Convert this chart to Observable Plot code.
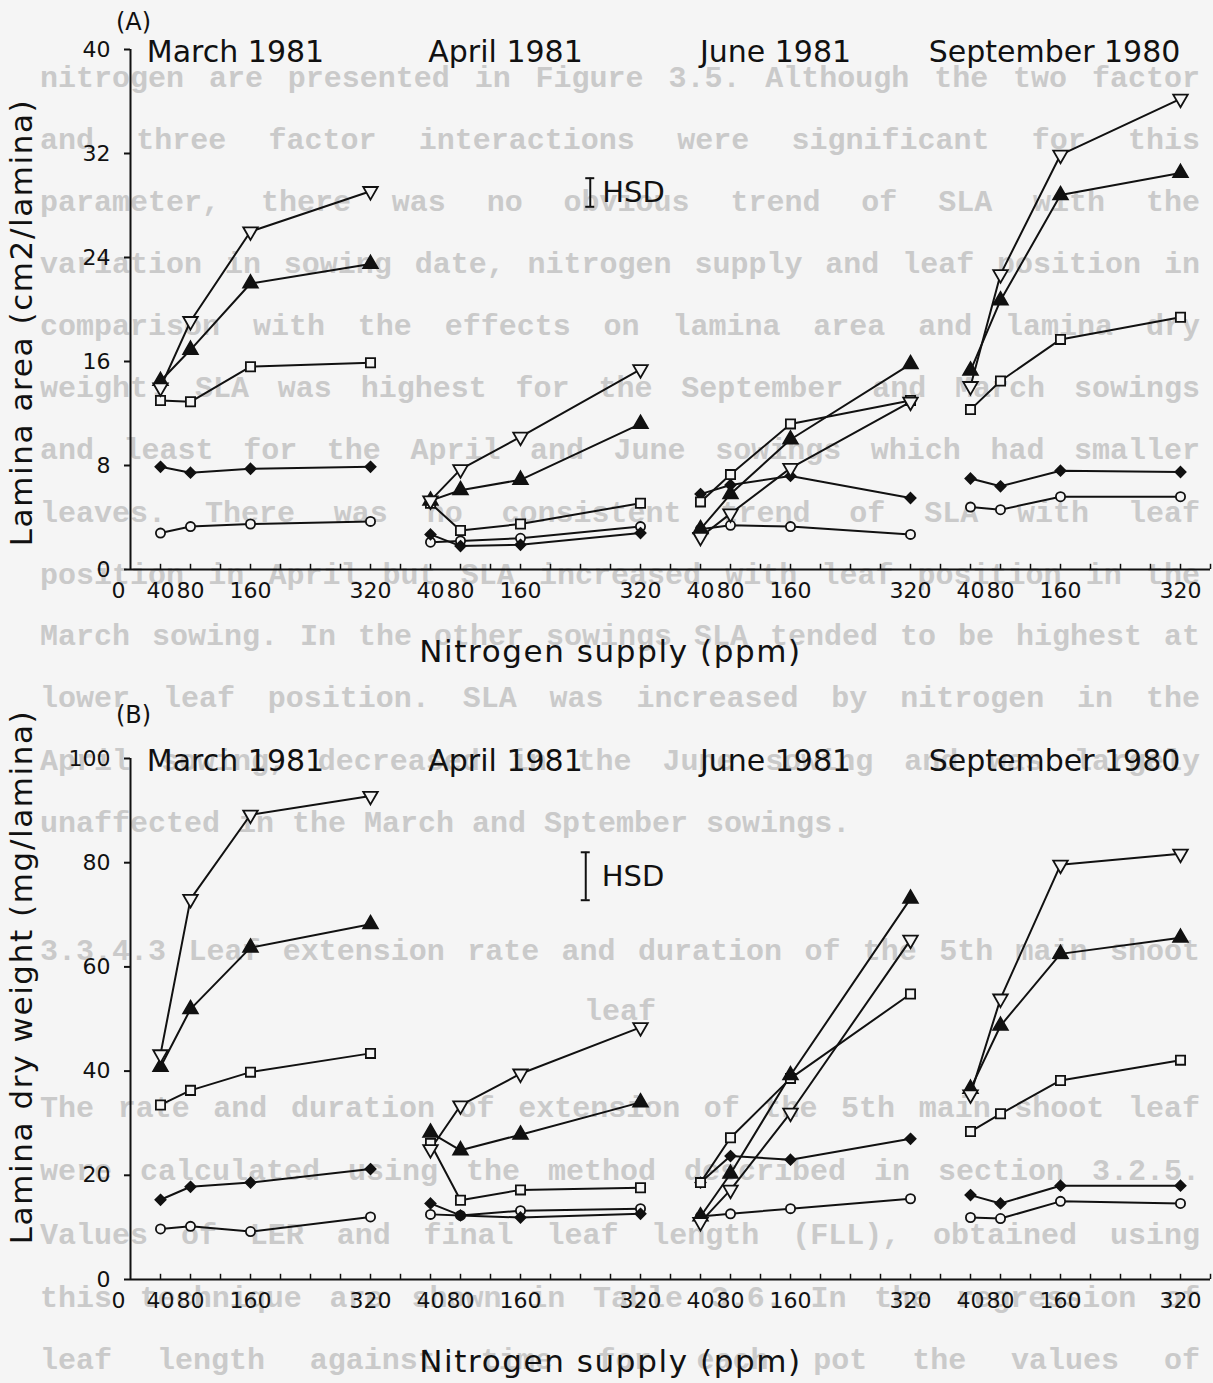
<!DOCTYPE html>
<html>
<head>
<meta charset="utf-8">
<script src="https://cdn.jsdelivr.net/npm/d3@7"></script>
<script src="https://cdn.jsdelivr.net/npm/@observablehq/plot@0.6"></script>
<style>
  html, body { margin: 0; padding: 0; background: #f5f5f5; }
  #page { position: relative; width: 1213px; height: 1383px; overflow: hidden; background: #f5f5f5; }
  #prose { position: absolute; left: 0; top: 0; width: 1213px; height: 1383px;
           font-family: "Liberation Mono", "DejaVu Sans Mono", monospace; font-weight: bold;
           font-size: 30px; color: #cacaca; }
  #prose div { position: absolute; left: 40px; width: 1160px; line-height: 30px;
               text-align: justify; text-align-last: justify; }
  #prose div.plain { text-align: left; text-align-last: left; }
  #prose div.center { text-align: center; text-align-last: center; }
  .chart { position: absolute; left: 0; }
</style>
</head>
<body>
<div id="page">
  <div id="prose"></div>
  <div id="chartA" class="chart" style="top:0px"></div>
  <div id="chartB" class="chart" style="top:690px"></div>
</div>
<script>
// ---------------------------------------------------------------------------
// Categories
const sowings = ["March 1981", "April 1981", "June 1981", "September 1980"];
const nitrogenLevels = [40, 80, 160, 320];          // ppm
const xTickLabels = ["40", "80", "160", "320"];
const seriesNames = ["downTriangle", "upTriangle", "square", "diamond", "circle"];

// (A) Lamina area (cm2/lamina); rows follow seriesNames, columns follow nitrogenLevels
const areaMarch1981 = [
  [14.0, 19.1, 26.0, 29.1],
  [14.5, 16.9, 22.0, 23.5],
  [13.0, 12.9, 15.6, 15.9],
  [7.9, 7.45, 7.75, 7.9],
  [2.8, 3.3, 3.5, 3.7]
];
const areaApril1981 = [
  [5.3, 7.7, 10.2, 15.4],
  [5.3, 6.1, 6.9, 11.2],
  [5.1, 3.0, 3.5, 5.1],
  [2.7, 1.8, 1.9, 2.8],
  [2.1, 2.2, 2.4, 3.3]
];
const areaJune1981 = [
  [2.5, 4.3, 7.8, 12.9],
  [3.1, 5.8, 10.0, 15.8],
  [5.2, 7.3, 11.2, 13.0],
  [5.8, 6.5, 7.2, 5.5],
  [3.1, 3.4, 3.3, 2.7]
];
const areaSeptember1980 = [
  [14.1, 22.7, 31.9, 36.2],
  [15.3, 20.7, 28.8, 30.5],
  [12.3, 14.5, 17.7, 19.4],
  [7.0, 6.4, 7.6, 7.5],
  [4.8, 4.6, 5.6, 5.6]
];

// (B) Lamina dry weight (mg/lamina)
const weightMarch1981 = [
  [43.2, 73.0, 89.2, 92.8],
  [40.8, 51.9, 63.7, 68.2],
  [33.5, 36.3, 39.8, 43.4],
  [15.3, 17.8, 18.6, 21.2],
  [9.7, 10.2, 9.2, 12.0]
];
const weightApril1981 = [
  [25.0, 33.4, 39.5, 48.4],
  [28.2, 24.8, 27.8, 34.0],
  [26.1, 15.2, 17.2, 17.6],
  [14.6, 12.3, 11.9, 12.6],
  [12.5, 12.3, 13.2, 13.6]
];
const weightJune1981 = [
  [11.0, 17.2, 32.0, 65.2],
  [12.1, 20.3, 39.2, 73.1],
  [18.6, 27.2, 38.6, 54.8],
  [18.6, 23.7, 23.0, 27.0],
  [12.1, 12.6, 13.6, 15.5]
];
const weightSeptember1980 = [
  [35.5, 53.9, 79.6, 81.7],
  [36.6, 48.7, 62.5, 65.6],
  [28.4, 31.8, 38.2, 42.1],
  [16.2, 14.6, 18.0, 18.0],
  [11.9, 11.7, 15.0, 14.6]
];

// Axis ticks and honestly significant differences
const areaTicks = [0, 8, 16, 24, 32, 40];
const weightTicks = [0, 20, 40, 60, 80, 100];
const hsdArea = 2.2;
const hsdWeight = 9.2;

// Running text of the page behind the figure
const proseLines = [
  "nitrogen are presented in Figure 3.5. Although the two factor",
  "and three factor interactions were significant for this",
  "parameter, there was no obvious trend of SLA with the",
  "variation in sowing date, nitrogen supply and leaf position in",
  "comparison with the effects on lamina area and lamina dry",
  "weight. SLA was highest for the September and March sowings",
  "and least for the April and June sowings which had smaller",
  "leaves. There was no consistent trend of SLA with leaf",
  "position in April but SLA increased with leaf position in the",
  "March sowing. In the other sowings SLA tended to be highest at",
  "lower leaf position. SLA was increased by nitrogen in the",
  "April sowing, decreased in the June sowing and was largely",
  "unaffected in the March and Sptember sowings.",
  "3.3.4.3 Leaf extension rate and duration of the 5th main shoot",
  "leaf",
  "The rate and duration of extension of the 5th main shoot leaf",
  "were calculated using the method described in section 3.2.5.",
  "Values of LER and final leaf length (FLL), obtained using",
  "this technique are shown in Table 3.6. In the regression of",
  "leaf length against time for each pot the values of"
];

// ---------------------------------------------------------------------------
// Page text layout
const proseCenters = [80, 142, 204, 266, 328, 390, 452, 515, 577, 638, 700, 763, 825,
                      953, 1013, 1110, 1173, 1237, 1300, 1362];
const prose = document.getElementById("prose");
proseLines.forEach((line, i) => {
  const div = document.createElement("div");
  div.textContent = line;
  div.style.top = (proseCenters[i] - 16) + "px";
  if (line.endsWith("sowings.")) div.className = "plain";
  if (line === "leaf") div.className = "center";
  prose.appendChild(div);
});

// ---------------------------------------------------------------------------
// Chart
const ink = "#111";
const paper = "#f5f5f5";
const panelSpan = 360;   // each sowing occupies 360 ppm of the shared axis

const triangleDown = {
  draw(context, size) {
    const y = -Math.sqrt(size / (Math.sqrt(3) * 3));
    context.moveTo(0, -y * 2);
    context.lineTo(-Math.sqrt(3) * y, y);
    context.lineTo(Math.sqrt(3) * y, y);
    context.closePath();
  }
};

const markerStyle = {
  circle: {symbol: "circle", fill: paper, r: 4.6},
  diamond: {symbol: "diamond2", fill: ink, r: 4.6},
  square: {symbol: "square", fill: paper, r: 5.2},
  upTriangle: {symbol: "triangle", fill: ink, r: 5.4},
  downTriangle: {symbol: triangleDown, fill: paper, r: 5.4}
};

function toRows(tables) {
  const rows = [];
  tables.forEach((table, s) =>
    table.forEach((values, k) =>
      values.forEach((v, n) =>
        rows.push({sowing: sowings[s], series: seriesNames[k],
                   x: s * panelSpan + nitrogenLevels[n], value: v}))));
  return rows;
}

function drawChart(cfg) {
  const rows = toRows(cfg.tables);
  const xMax = panelSpan * sowings.length;
  const minorTicks = d3.range(40, xMax + 1, 40);
  const xLabels = sowings.flatMap((_, s) =>
    nitrogenLevels.map((n, k) => ({x: s * panelSpan + n, label: xTickLabels[k]})));
  const dotMarks = ["circle", "diamond", "square", "upTriangle", "downTriangle"].map(name =>
    Plot.dot(rows.filter(d => d.series === name), {
      x: "x", y: "value",
      symbol: markerStyle[name].symbol,
      r: markerStyle[name].r,
      fill: markerStyle[name].fill,
      stroke: ink, strokeWidth: 1.8
    }));
  const hsdLow = cfg.hsdY - cfg.hsd / 2;
  const hsdHigh = cfg.hsdY + cfg.hsd / 2;
  const svg = Plot.plot({
    width: 1213,
    height: cfg.height,
    marginLeft: 130,
    marginRight: 3,
    marginTop: cfg.marginTop,
    marginBottom: cfg.marginBottom,
    style: {background: "transparent", fontFamily: "DejaVu Sans", color: ink, overflow: "visible"},
    x: {domain: [0, xMax], axis: null},
    y: {domain: [0, cfg.yMax], label: null},
    marks: [
      // axes
      Plot.ruleY([0], {stroke: ink, strokeWidth: 2}),
      Plot.ruleX([0], {y1: 0, y2: cfg.yMax, stroke: ink, strokeWidth: 2}),
      Plot.ruleX(minorTicks, {x: d => d, y1: 0, y2: cfg.tickLen, stroke: ink, strokeWidth: 1.5}),
      Plot.axisY({ticks: cfg.yTicks, tickSize: 6, tickPadding: 14, fontSize: 22,
                  tickFormat: d => String(d), label: null, strokeWidth: 2}),
      Plot.text(xLabels, {x: "x", text: "label", frameAnchor: "bottom", dy: 21,
                          fontSize: 22, textAnchor: "middle", lineAnchor: "middle"}),
      Plot.text(["0"], {frameAnchor: "bottom-left", dx: -12, dy: 21, fontSize: 22,
                        textAnchor: "middle", lineAnchor: "middle"}),
      // titles and labels
      Plot.text([cfg.letter], {frameAnchor: "top-left", dx: 3, dy: cfg.letterDy, fontSize: 24,
                               textAnchor: "middle", lineAnchor: "middle"}),
      Plot.text(sowings, {x: (d, i) => i * panelSpan + (i === 3 ? 152 : 140), y: () => cfg.yMax, dy: 3,
                          text: d => d, fontSize: 30, textAnchor: "middle", lineAnchor: "middle"}),
      Plot.text([cfg.yLabel], {frameAnchor: "left", dx: -108, dy: cfg.yLabelDy, rotate: -90,
                               fontSize: 31, textAnchor: "middle", lineAnchor: "middle"}),
      Plot.text(["Nitrogen supply (ppm)"], {frameAnchor: "bottom", dx: -60, dy: 83, fontSize: 31,
                                             textAnchor: "middle", lineAnchor: "middle"}),
      // HSD bar
      Plot.ruleX([cfg.hsdX], {x: d => d, y1: hsdLow, y2: hsdHigh, stroke: ink, strokeWidth: 2}),
      Plot.ruleY([hsdLow, hsdHigh], {y: d => d, x1: cfg.hsdX - 6, x2: cfg.hsdX + 6, stroke: ink, strokeWidth: 2}),
      Plot.text(["HSD"], {x: () => cfg.hsdX, y: () => cfg.hsdY, dx: cfg.hsdDx, fontSize: 29,
                          textAnchor: "start", lineAnchor: "middle"}),
      // data
      Plot.line(rows, {x: "x", y: "value", z: d => d.sowing + "/" + d.series,
                       stroke: ink, strokeWidth: 2, strokeLinejoin: "round"}),
      ...dotMarks
    ]
  });
  // the plotter lettering of the axis titles is widely spaced
  d3.select(svg).selectAll("text")
    .filter(function () { return this.textContent === cfg.yLabel || this.textContent === "Nitrogen supply (ppm)"; })
    .attr("letter-spacing", "1.6px");
  return svg;
}

document.getElementById("chartA").appendChild(drawChart({
  tables: [areaMarch1981, areaApril1981, areaJune1981, areaSeptember1980],
  yMax: 40, yTicks: areaTicks, tickLen: 0.4,
  yLabel: "Lamina area (cm2/lamina)", yLabelDy: 13,
  letter: "(A)", letterDy: -27,
  hsd: hsdArea, hsdX: 613, hsdY: 29.0, hsdDx: 12,
  height: 690, marginTop: 49, marginBottom: 121
}));

document.getElementById("chartB").appendChild(drawChart({
  tables: [weightMarch1981, weightApril1981, weightJune1981, weightSeptember1980],
  yMax: 100, yTicks: weightTicks, tickLen: 1.0,
  yLabel: "Lamina dry weight (mg/lamina)", yLabelDy: -42,
  letter: "(B)", letterDy: -43,
  hsd: hsdWeight, hsdX: 607, hsdY: 77.4, hsdDx: 16,
  height: 693, marginTop: 68, marginBottom: 104
}));
</script>
</body>
</html>
